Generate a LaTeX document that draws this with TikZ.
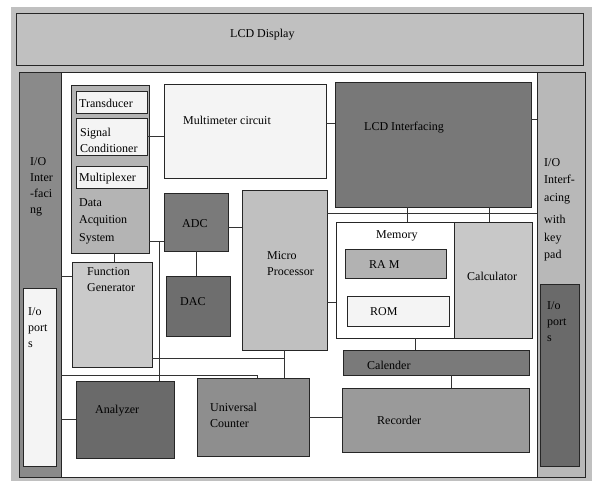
\documentclass[tikz,border=0pt]{standalone}
\usepackage{fontspec}
\setmainfont{Liberation Serif}
\usetikzlibrary{calc}

\definecolor{bggray}{HTML}{C0C0C0}
\definecolor{iolgray}{HTML}{8A8A8A}
\definecolor{iorgray}{HTML}{B8B8B8}
\definecolor{lightbox}{HTML}{F4F4F4}
\definecolor{dasgray}{HTML}{B4B4B4}
\definecolor{lcdifgray}{HTML}{787878}
\definecolor{adcgray}{HTML}{7A7A7A}
\definecolor{dacgray}{HTML}{6E6E6E}
\definecolor{mpgray}{HTML}{C0C0C0}
\definecolor{fggray}{HTML}{CACACA}
\definecolor{anagray}{HTML}{6A6A6A}
\definecolor{ucgray}{HTML}{8E8E8E}
\definecolor{recgray}{HTML}{9A9A9A}
\definecolor{calgray}{HTML}{7A7A7A}
\definecolor{calcgray}{HTML}{C8C8C8}
\definecolor{ramgray}{HTML}{B2B2B2}
\definecolor{portgray}{HTML}{6A6A6A}

\tikzset{
  blk/.style={draw=black!85, line width=0.9pt, inner sep=0pt, outer sep=0pt},
  lbl/.style={font=\fontsize{12}{16}\selectfont, anchor=west, inner sep=0pt, align=left},
  wire/.style={draw=black!80, line width=0.8pt}
}

\newcommand{\blk}[6]{%
  % Block: #1=name, #2=x1, #3=y1, #4=x2, #5=y2 (pixels, y down), #6=fill
  \node[blk, fill=#6, minimum width={(#4-#2)*1pt}, minimum height={(#5-#3)*1pt}]
    (#1) at ({(#2+#4)/2},{(#3+#5)/2}) {};%
}

\begin{document}
\begin{tikzpicture}[x=1pt, y=-1pt]

\useasboundingbox (0,0) rectangle (592,481);

% ================================================================
% Background and frames
% ================================================================
\fill[white]  (0,0) rectangle (592,481);
\fill[bggray] (11,7) rectangle (592,481);
\blk{lcd}{16}{13}{583}{65}{bggray}
\blk{frame}{19}{72}{585}{477}{white}
\node[lbl] (lcdtxt) at (230,35) {LCD Display};

% ================================================================
% I/O columns (left and right)
% ================================================================
\blk{iol}{19}{72}{61}{477}{iolgray}
\blk{iolports}{23}{288}{56}{466}{lightbox}
\node[lbl] (ioltxt) at (30,187) {I/O\\Inter\\-faci\\ng};
\node[lbl] (iolptxt) at (28,328) {I/o\\port\\s};

\blk{iokey}{537}{72}{585}{477}{iorgray}
\blk{iokports}{540}{284}{579}{466}{portgray}
\node[lbl, font=\fontsize{12}{17.5}\selectfont] (iokeytxt) at (544,210)
  {I/O\\Interf-\\acing\\[5pt]with\\key\\pad};
\node[lbl] (iokptxt) at (547,322) {I/o\\port\\s};

% ================================================================
% Data acquisition system
% ================================================================
\blk{das}{71}{85}{149}{253}{dasgray}
\blk{trans}{76}{91}{147}{113}{lightbox}
\blk{sigcond}{76}{118}{147}{155}{lightbox}
\blk{mux}{76}{166}{147}{188}{lightbox}
\node[lbl] (transtxt) at (79,103) {Transducer};
\node[lbl] (sigtxt) at (80,140) {Signal\\Conditioner};
\node[lbl] (muxtxt) at (79,179) {Multiplexer};
\node[lbl, font=\fontsize{12}{17.5}\selectfont] (dastxt) at (79,221) {Data\\Acquition\\System};

% ================================================================
% Upper blocks
% ================================================================
\blk{multi}{164}{84}{326}{178}{lightbox}
\node[lbl] (multitxt) at (183,120) {Multimeter circuit};
\blk{lcdif}{335}{82}{531}{207}{lcdifgray}
\node[lbl] (lcdiftxt) at (364,128) {LCD Interfacing};

% ================================================================
% Converters, processor, generator
% ================================================================
\blk{adc}{164}{193}{228}{251}{adcgray}
\node[lbl] (adctxt) at (182,224) {ADC};
\blk{dac}{166}{276}{230}{336}{dacgray}
\node[lbl] (dactxt) at (180,302) {DAC};
\blk{mp}{242}{190}{327}{350}{mpgray}
\node[lbl] (mptxt) at (267,264) {Micro\\Processor};
\blk{fg}{72}{262}{152}{367}{fggray}
\node[lbl] (fgtxt) at (87,280) {Function\\Generator};

% ================================================================
% Memory, calculator, calender
% ================================================================
\blk{mem}{336}{222}{454}{338}{white}
\node[lbl] (memtxt) at (376,236) {Memory};
\blk{ram}{345}{249}{446}{278}{ramgray}
\node[lbl] (ramtxt) at (369,265) {RA M};
\blk{rom}{347}{296}{449}{326}{lightbox}
\node[lbl] (romtxt) at (370,312) {ROM};
\blk{calc}{454}{222}{532}{338}{calcgray}
\node[lbl] (calctxt) at (467,276) {Calculator};
\blk{cal}{343}{350}{529}{375}{calgray}
\node[lbl] (caltxt) at (367,365) {Calender};

% ================================================================
% Lower blocks
% ================================================================
\blk{ana}{76}{381}{174}{458}{anagray}
\node[lbl] (anatxt) at (95,411) {Analyzer};
\blk{uc}{197}{378}{309}{456}{ucgray}
\node[lbl] (uctxt) at (210,415) {Universal\\Counter};
\blk{rec}{342}{388}{529}{452}{recgray}
\node[lbl] (rectxt) at (377,420) {Recorder};

% ================================================================
% Connections
% ================================================================
\draw[wire] (sigcond.east) -- (sigcond.east -| multi.west);
\coordinate (multiout) at ([yshift=8pt]multi.east);
\draw[wire] (multiout) -- (multiout -| lcdif.west);
\coordinate (lcdifout) at ([yshift=25pt]lcdif.east);
\draw[wire] (lcdifout) -- (lcdifout -| iokey.west);

% processor bus to the right
\coordinate (bus) at ([yshift=-23pt]mp.north east);
\draw[wire] (bus) -- (bus -| iokey.west);
\coordinate (memtap) at ([xshift=12pt]mem.north);
\draw[wire] (memtap) -- (memtap |- lcdif.south);
\coordinate (calctap) at ([xshift=-4pt]calc.north);
\draw[wire] (calctap) -- (calctap |- lcdif.south);
\coordinate (mpmem) at ([yshift=-32pt]mp.east);
\draw[wire] (mpmem) -- (mpmem -| mem.west);
\coordinate (memcal) at ([xshift=20pt]mem.south);
\draw[wire] (memcal) -- (memcal |- cal.north);
\coordinate (calrec) at ([xshift=15pt]cal.south);
\draw[wire] (calrec) -- (calrec |- rec.north);
\draw[wire] (uc.east) -- (uc.east -| rec.west);

% converters
\coordinate (adcmp) at ([yshift=-5pt]adc.east);
\draw[wire] (adcmp) -- (adcmp -| mp.west);
\draw[wire] (adc.south) -- (adc.south |- dac.north);
\coordinate (dasout) at ([yshift=12pt]das.south east);
\draw[wire] (dasout) -- (dasout -| adc.west);
\coordinate (dastap) at (159,241);
\draw[wire] (dastap) -- (dastap |- ana.north);

% generator and left side
\coordinate (dasfg) at ([xshift=4pt]das.south);
\draw[wire] (dasfg) -- (dasfg |- fg.north);
\coordinate (fgin) at ([yshift=-14pt]fg.north west);
\draw[wire] (fgin -| iol.east) -- (fgin);
\coordinate (fgout) at ([yshift=9pt]fg.south east);
\draw[wire] (fgout) -- (fgout -| mp.south);
\draw[wire] (mp.south) -- (mp.south |- uc.north);
\coordinate (ucbus) at ([xshift=60pt,yshift=3pt]uc.north west);
\draw[wire] (ucbus -| iol.east) -- (ucbus) -- (ucbus |- uc.north);
\draw[wire] (ana.west) -- (ana.west -| iol.east);

\end{tikzpicture}
\end{document}
